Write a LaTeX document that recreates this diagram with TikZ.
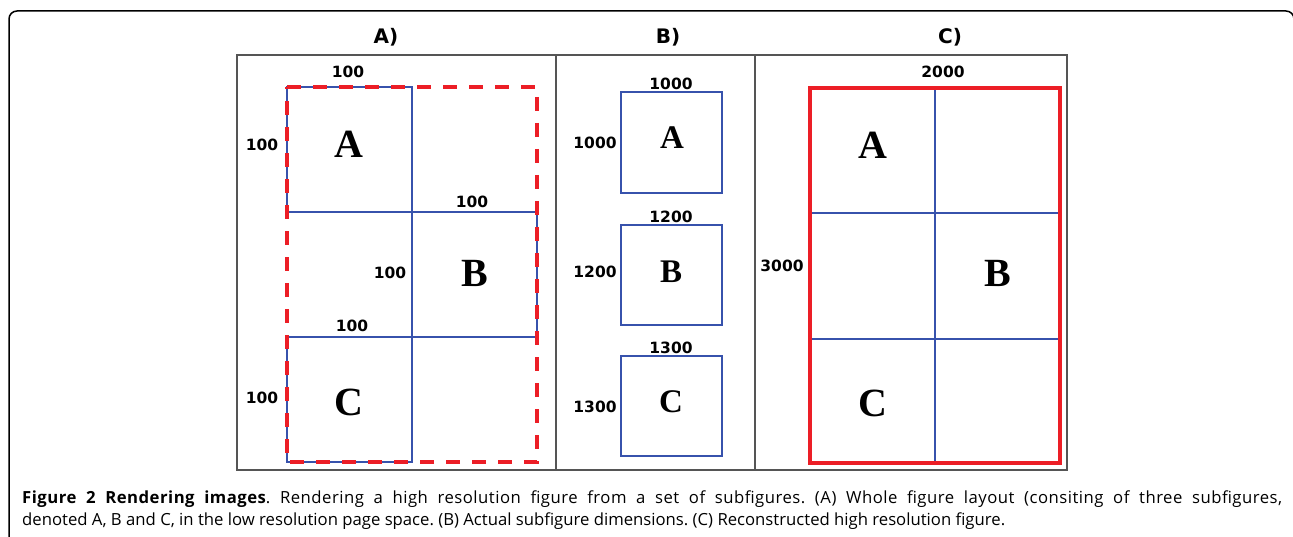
\documentclass[tikz,border=0pt]{standalone}
\usepackage{fontspec}
\setmainfont{Open Sans}
\newfontfamily\numfont{DejaVu Sans}
\newfontfamily\letfont{Liberation Serif}
\definecolor{bl}{RGB}{55,82,172}
\definecolor{rd}{RGB}{236,30,38}
\definecolor{fr}{RGB}{85,85,85}
\tikzset{
  num/.style={inner sep=0pt, font=\numfont\bfseries\fontsize{15.5}{18}\selectfont},
  ttl/.style={inner sep=0pt, anchor=base, font=\numfont\bfseries\fontsize{20}{24}\selectfont},
  letA/.style={inner sep=0pt, font=\letfont\bfseries\fontsize{40}{44}\selectfont},
  letB/.style={inner sep=0pt, font=\letfont\bfseries\fontsize{33}{36}\selectfont},
  bline/.style={draw=bl, line width=2.2pt},
  rdash/.style={draw=rd, line width=4pt, dash pattern=on 14pt off 12pt},
  rsolid/.style={draw=rd, line width=4pt},
  panel/.style={draw=fr, line width=1.5pt},
  captxt/.style={inner sep=0pt, anchor=base west, font=\fontsize{16.7}{20}\selectfont\frenchspacing}
}
\begin{document}
\begin{tikzpicture}[x=1pt,y=-1pt]
\useasboundingbox (0,0) rectangle (1293,537);
\begin{scope}
\clip (0,0) rectangle (1293,537);
\draw[line width=1.5pt, rounded corners=8pt] (9,560) -- (9,11) -- (1294,11) -- (1294,560);
\end{scope}
% panel frames
\draw[panel] (237,55) rectangle (1067,470);
\draw[panel] (556,55) -- (556,470);
\draw[panel] (755,55) -- (755,470);
% titles
\node[ttl] (tA) at (386,44) {A)};
\node[ttl] (tB) at (668,44) {B)};
\node[ttl] (tC) at (950,44) {C)};
% panel A
\draw[bline] (287,87) rectangle (412,212);
\draw[bline] (412,212) rectangle (537,337);
\draw[bline] (287,337) rectangle (412,462);
\draw[rdash] (287,87) -- (537,87) -- (537,462) -- (287,462) -- cycle;
\node[num] (a1) at (348,72) {100};
\node[num] (a2) at (262,145) {100};
\node[num] (a3) at (472,202) {100};
\node[num] (a4) at (390,273) {100};
\node[num] (a5) at (352,326) {100};
\node[num] (a6) at (262,398) {100};
\node[letA] (aA) at (349,144) {A};
\node[letA] (aB) at (475,273) {B};
\node[letA] (aC) at (349,402) {C};
% panel B
\draw[bline] (621,92) rectangle (722,193);
\draw[bline] (621,225) rectangle (722,325);
\draw[bline] (621,356) rectangle (722,456);
\node[num] (b1) at (671,84) {1000};
\node[num] (b2) at (595,143) {1000};
\node[num] (b3) at (671,217) {1200};
\node[num] (b4) at (595,272) {1200};
\node[num] (b5) at (671,348) {1300};
\node[num] (b6) at (595,407) {1300};
\node[letB] (bA) at (672,138) {A};
\node[letB] (bB) at (671,272) {B};
\node[letB] (bC) at (671,402) {C};
% panel C
\draw[bline] (935,88) -- (935,463);
\draw[bline] (810,213) -- (1060,213);
\draw[bline] (810,339) -- (1060,339);
\draw[rsolid] (810,88) rectangle (1060,463);
\node[num] (c1) at (943,72) {2000};
\node[num] (c2) at (782,266) {3000};
\node[letA] (cA) at (873,145) {A};
\node[letA] (cB) at (998,273) {B};
\node[letA] (cC) at (873,403) {C};
% caption
\node[captxt] (cap1) at (22,503) {\addfontfeature{LetterSpace=3}\makebox[1260pt][s]{\textbf{Figure 2 Rendering images}. Rendering a high resolution figure from a set of subfigures. (A) Whole figure layout (consiting of three subfigures,}};
\node[captxt] (cap2) at (22,525) {denoted A, B and C, in the low resolution page space. (B) Actual subfigure dimensions. (C) Reconstructed high resolution figure.};
\end{tikzpicture}
\end{document}
